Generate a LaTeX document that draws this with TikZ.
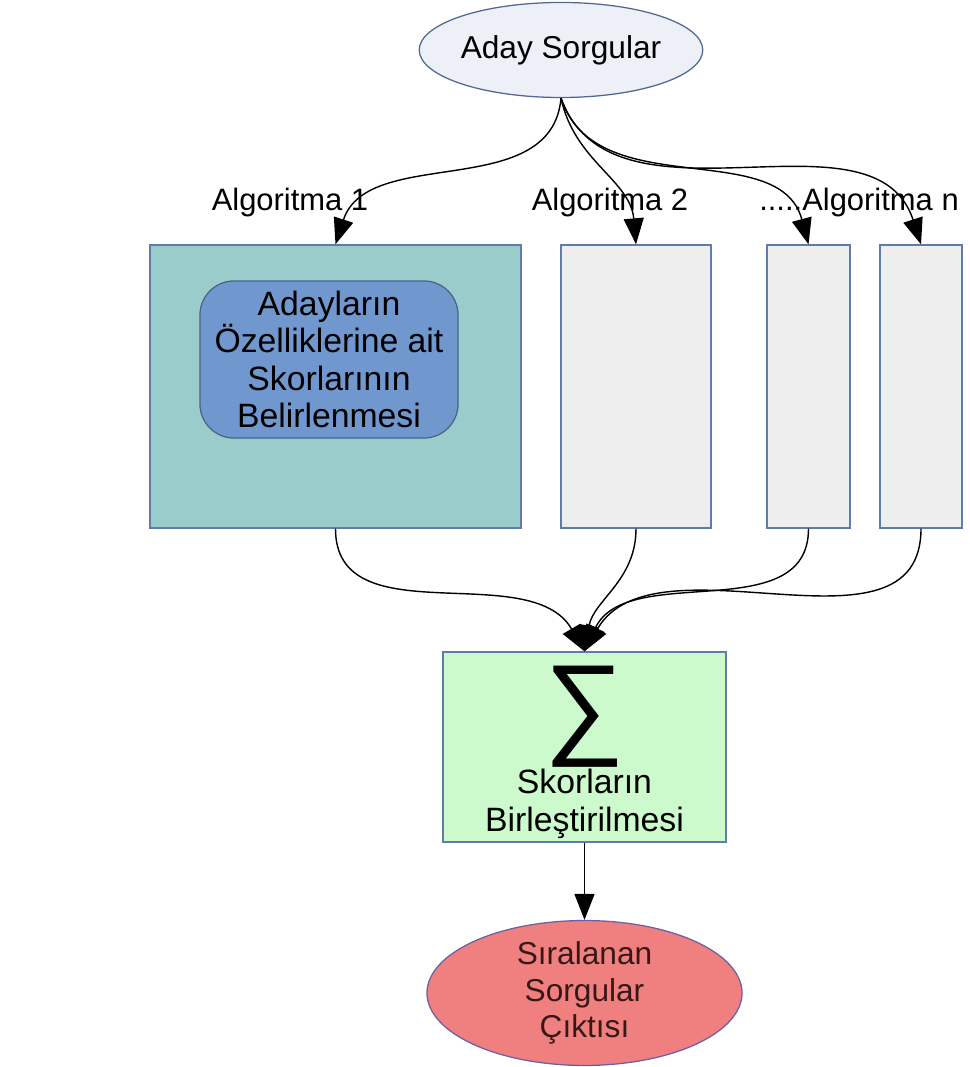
\documentclass[tikz,border=0pt]{standalone}
\usepackage{fontspec}
\setmainfont{Liberation Sans}
\usetikzlibrary{arrows.meta,shapes.geometric}
\definecolor{girdi}{RGB}{238,240,248}
\definecolor{kenar}{RGB}{96,124,168}
\definecolor{algbir}{RGB}{155,204,204}
\definecolor{ozel}{RGB}{112,152,206}
\definecolor{gri}{RGB}{238,238,238}
\definecolor{yesil}{RGB}{204,250,204}
\definecolor{pembe}{RGB}{240,128,128}
\definecolor{morkenar}{RGB}{110,96,160}
\definecolor{koyu}{RGB}{55,24,24}

\begin{document}
\begin{tikzpicture}[x=0.025cm, y=0.025cm,
		kutu/.style={draw=kenar, line width=0.9pt, inner sep=0pt},
		yazi/.style={font=\fontsize{24}{26.6}\selectfont, align=center},
		etiket/.style={font=\fontsize{22}{26}\selectfont, inner sep=0pt},
		ok/.style={line width=1pt, -{Triangle[length=0.65cm, width=0.5cm]}}]
				\useasboundingbox (0,0) rectangle (970,1067);
				% girdi
				\node[kutu, draw=kenar!85!black, ellipse, fill=girdi, minimum width=6.425cm, minimum height=2.375cm,
					font=\fontsize{22.5}{26}\selectfont] (aday) at (561,1017) {Aday Sorgular};
				% algoritma kutulari
				\node[kutu, fill=algbir, minimum width=9.275cm, minimum height=7.075cm] (alg1) at (335.5,680.5) {};
				\node[kutu, fill=gri, minimum width=3.75cm, minimum height=7.075cm] (alg2) at (636,680.5) {};
				\node[kutu, fill=gri, minimum width=2.075cm, minimum height=7.075cm] (alg3) at (808.5,680.5) {};
				\node[kutu, fill=gri, minimum width=2.05cm, minimum height=7.075cm] (alg4) at (921,680.5) {};
				\node[kutu, draw=kenar!80!black, fill=ozel, rounded corners=0.85cm, minimum width=6.45cm,
					minimum height=3.925cm, yazi] (ozellik) at (329,707.5) {Adayların\\Özelliklerine ait\\Skorlarının\\Belirlenmesi};
				% etiketler
				\node[etiket] (alg1lbl) at (290,864) {Algoritma 1};
				\node[etiket] (alg2lbl) at (610,864) {Algoritma 2};
				\node[etiket] (alg4lbl) at (859,864) {.....Algoritma n};
				% birlestirme
				\node[kutu, fill=yesil, minimum width=7.075cm, minimum height=4.75cm] (birles) at (584.5,320) {};
				\node[font=\fontsize{80}{80}\selectfont, inner sep=0pt] (toplam) at (584.5,350) {∑};
				\node[yazi] (birlestxt) at (584.5,263) {Skorların\\Birleştirilmesi};
				% cikti
				\node[kutu, ellipse, draw=morkenar, fill=pembe, minimum width=7.875cm, minimum height=3.5cm,
					yazi, font=\fontsize{22.5}{25.9}\selectfont, text=koyu] (cikti) at (584.5,74) {Sıralanan\\Sorgular\\Çıktısı};
				% oklar
				\draw[ok] (aday.south) to[out=-95, in=72] (alg1.north);
				\draw[ok] (aday.south) to[out=-78, in=95] (alg2.north);
				\draw[ok] (aday.south) to[out=-72, in=105] (alg3.north);
				\draw[ok] (aday.south) to[out=-70, in=108] (alg4.north);
				\draw[ok] (alg1.south) to[out=-90, in=120] (birles.north);
				\draw[ok] (alg2.south) to[out=-90, in=80] (birles.north);
				\draw[ok] (alg3.south) to[out=-90, in=65] (birles.north);
				\draw[ok] (alg4.south) to[out=-90, in=60] (birles.north);
				\draw[ok] (birles.south) -- (cikti.north);
\end{tikzpicture}
\end{document}
